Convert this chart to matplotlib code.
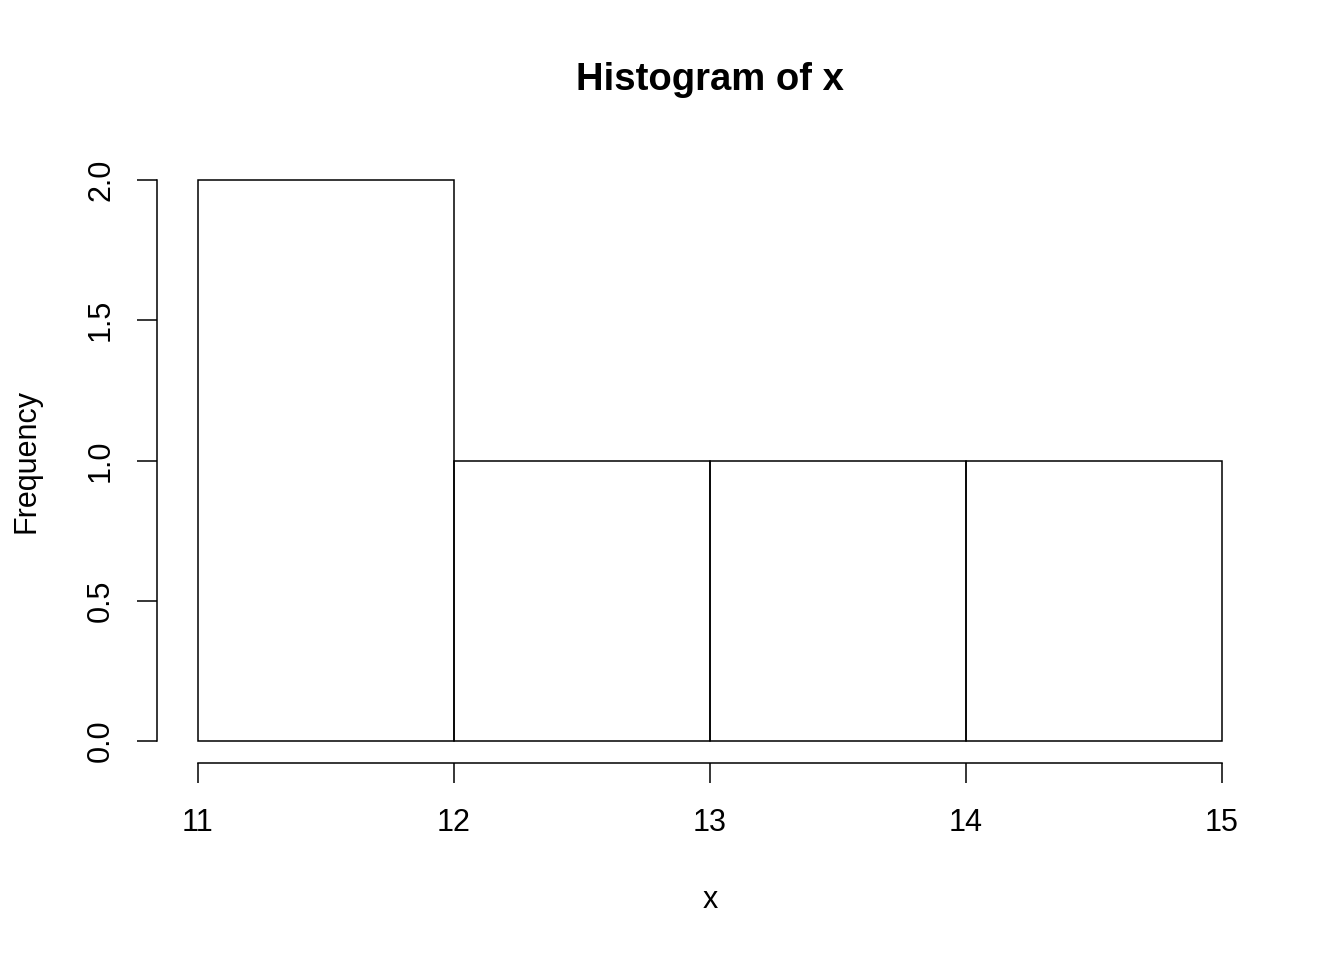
import matplotlib
matplotlib.use("Agg")
import matplotlib.pyplot as plt

plt.rcParams['font.family'] = ['Liberation Sans', 'DejaVu Sans']

# histogram bins and counts
bin_edges = [11, 12, 13, 14, 15]
counts = [2, 1, 1, 1]
x_ticks = [11, 12, 13, 14, 15]
y_ticks = [0.0, 0.5, 1.0, 1.5, 2.0]

fig = plt.figure(figsize=(13.44, 9.6), dpi=100)
ax = fig.add_axes([157 / 1344, 1 - 763.4 / 960, (1263 - 157) / 1344, (763.4 - 157.6) / 960])

ax.hist(bin_edges[:-1], bins=bin_edges, weights=counts,
        histtype='bar', fill=False, edgecolor='black', linewidth=1.1)

ax.set_xlim(10.84, 15.16)
ax.set_ylim(-0.08, 2.08)

for s in ['top', 'right']:
    ax.spines[s].set_visible(False)
ax.spines['left'].set_bounds(0, 2)
ax.spines['bottom'].set_bounds(11, 15)
ax.spines['left'].set_linewidth(1.1)
ax.spines['bottom'].set_linewidth(1.1)

ax.set_xticks(x_ticks)
ax.set_xticklabels([str(t) for t in x_ticks])
ax.set_yticks(y_ticks)
ax.set_yticklabels([f"{t:.1f}" for t in y_ticks], rotation=90, va='center')
ax.tick_params(axis='both', direction='out', length=14.5, width=1.1,
               labelsize=22, pad=17.5)
ax.tick_params(axis='y', pad=15)

cx = (157 + 1263) / 2 / 1344
fig.text(cx, 1 - 80 / 960, "Histogram of x", ha='center', va='center',
         fontsize=27.5, fontweight='bold')
fig.text(cx, 1 - 900 / 960, "x", ha='center', va='center', fontsize=22)
fig.text(26 / 1344, 1 - 461 / 960, "Frequency", ha='center', va='center',
         rotation=90, fontsize=22)

fig.savefig("out.png", dpi=100, facecolor='white')
